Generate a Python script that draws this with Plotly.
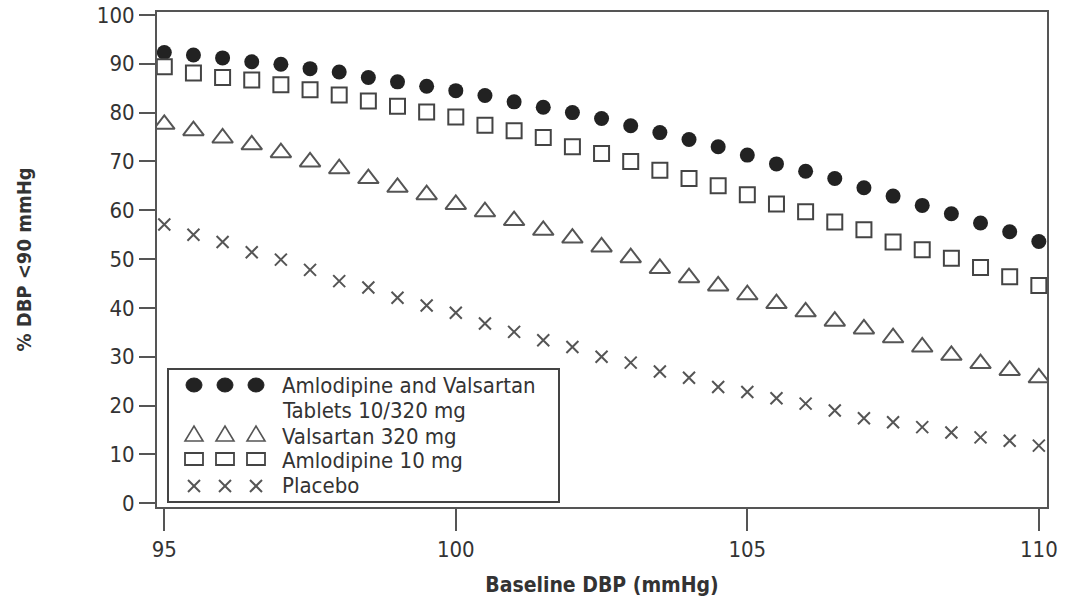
import plotly.graph_objects as go

# ---- data ----
baseline_dbp = [95 + 0.5 * i for i in range(31)]

amlo_valsartan = [92.3, 91.8, 91.2, 90.4, 89.9, 89.0, 88.3, 87.2, 86.3, 85.4, 84.5,
                  83.5, 82.2, 81.1, 80.0, 78.8, 77.3, 75.9, 74.5, 73.0, 71.3,
                  69.5, 68.0, 66.5, 64.6, 62.9, 61.0, 59.3, 57.4, 55.6, 53.6]
valsartan = [77.6, 76.3, 74.8, 73.4, 71.8, 69.9, 68.5, 66.5, 64.7, 63.2, 61.2,
             59.7, 57.9, 55.9, 54.3, 52.5, 50.3, 48.1, 46.2, 44.5, 42.7,
             40.9, 39.2, 37.3, 35.7, 33.9, 32.0, 30.3, 28.6, 27.2, 25.7]
amlodipine = [89.4, 88.1, 87.2, 86.7, 85.7, 84.7, 83.6, 82.4, 81.3, 80.1, 79.1,
              77.4, 76.3, 74.9, 73.0, 71.6, 70.0, 68.2, 66.5, 65.0, 63.2,
              61.3, 59.7, 57.6, 56.0, 53.5, 51.9, 50.2, 48.3, 46.4, 44.6]
placebo = [57.1, 55.0, 53.5, 51.4, 49.9, 47.8, 45.5, 44.2, 42.1, 40.5, 39.0,
           36.8, 35.1, 33.4, 32.0, 30.0, 28.8, 27.0, 25.7, 23.8, 22.8,
           21.5, 20.4, 19.0, 17.4, 16.6, 15.6, 14.5, 13.5, 12.8, 11.8]

series_names = ["Amlodipine and Valsartan<br>Tablets 10/320 mg", "Valsartan 320 mg",
                "Amlodipine 10 mg", "Placebo"]
x_ticks = [95, 100, 105, 110]
y_ticks = [0, 10, 20, 30, 40, 50, 60, 70, 80, 90, 100]

FONT = "'Liberation Sans Narrow', 'DejaVu Sans Condensed', 'Arial Narrow', 'Liberation Sans', sans-serif"
TXT = "#333333"

styles = [
    dict(symbol="circle", size=15, color="#222222", line=dict(width=0)),
    dict(symbol="triangle-up-open", size=18, color="#555555", line=dict(width=2)),
    dict(symbol="square-open", size=15, color="#444444", line=dict(width=2)),
    dict(symbol="x-thin-open", size=12, color="#555555", line=dict(width=2, color="#555555")),
]
values = [amlo_valsartan, valsartan, amlodipine, placebo]

fig = go.Figure()
for name, vals, st in zip(series_names, values, styles):
    fig.add_trace(go.Scatter(x=baseline_dbp, y=vals, mode="markers", name=name,
                             marker=st, showlegend=False, hoverinfo="x+y+name"))

# plot area pixel geometry
L, R, T, B = 157, 1047, 12, 507
W, H = 1065, 603
def px(x):
    return (x - L) / (R - L)
def py(y):
    return (B - y) / (B - T)

fig.update_layout(
    width=W, height=H,
    margin=dict(l=L, r=W - R, t=T, b=H - B, autoexpand=False),
    paper_bgcolor="white", plot_bgcolor="white",
    font=dict(family=FONT, color=TXT, size=18),
    xaxis=dict(range=[94.875, 110.14], tickvals=x_ticks, ticks="outside", ticklen=22,
               tickwidth=2, tickcolor="#555555", showgrid=False, zeroline=False,
               showline=True, linecolor="#555555", linewidth=2, mirror=True,
               automargin=False,
               tickfont=dict(size=22, family=FONT, color=TXT),
               title=dict(text="<b>Baseline DBP (mmHg)</b>", font=dict(size=21, family=FONT, color=TXT),
                          standoff=16)),
    yaxis=dict(range=[-0.76, 100.6], tickvals=y_ticks, ticks="outside", ticklen=16,
               tickwidth=2, tickcolor="#555555", showgrid=False, zeroline=False,
               showline=True, linecolor="#555555", linewidth=2, mirror=True,
               automargin=False,
               tickfont=dict(size=22, family=FONT, color=TXT),
               title=dict(text="<b>% DBP <90 mmHg</b>", font=dict(size=20, family=FONT, color=TXT),
                          standoff=60)),
)

# custom legend box (three symbols per entry, like the original)
fig.add_shape(type="rect", xref="paper", yref="paper",
              x0=px(168), x1=px(559), y0=py(502), y1=py(369),
              line=dict(color="#444444", width=2), fillcolor="white", layer="above")

sym_x = [194, 225, 256]
for cx in sym_x:
    # filled circle
    cy = 385
    fig.add_shape(type="circle", xref="paper", yref="paper",
                  x0=px(cx - 8), x1=px(cx + 8), y0=py(cy + 7), y1=py(cy - 7),
                  line=dict(color="#222222", width=1), fillcolor="#222222", layer="above")
    # open triangle
    cy = 434
    path = "M {} {} L {} {} L {} {} Z".format(px(cx - 9), py(cy + 7), px(cx + 9), py(cy + 7),
                                              px(cx), py(cy - 8))
    fig.add_shape(type="path", xref="paper", yref="paper", path=path,
                  line=dict(color="#555555", width=1.6), layer="above")
    # open rectangle
    cy = 459
    fig.add_shape(type="rect", xref="paper", yref="paper",
                  x0=px(cx - 9), x1=px(cx + 9), y0=py(cy + 6), y1=py(cy - 6),
                  line=dict(color="#444444", width=1.8), layer="above")
    # cross
    cy = 486
    for sgn in (1, -1):
        fig.add_shape(type="line", xref="paper", yref="paper",
                      x0=px(cx - 6), x1=px(cx + 6), y0=py(cy + 6 * sgn), y1=py(cy - 6 * sgn),
                      line=dict(color="#555555", width=2), layer="above")

label_rows = [("Amlodipine and Valsartan", 385), ("Tablets 10/320 mg", 410),
              ("Valsartan 320 mg", 436), ("Amlodipine 10 mg", 460), ("Placebo", 485)]
for txt, yy in label_rows:
    fig.add_annotation(x=px(280), y=py(yy), xref="paper", yref="paper", text=txt,
                       showarrow=False, xanchor="left", yanchor="middle",
                       font=dict(size=22, color=TXT, family=FONT))

fig.write_html("out.html", config={"displayModeBar": False},
               post_script="document.body.style.margin='0';document.body.style.overflow='hidden';")
